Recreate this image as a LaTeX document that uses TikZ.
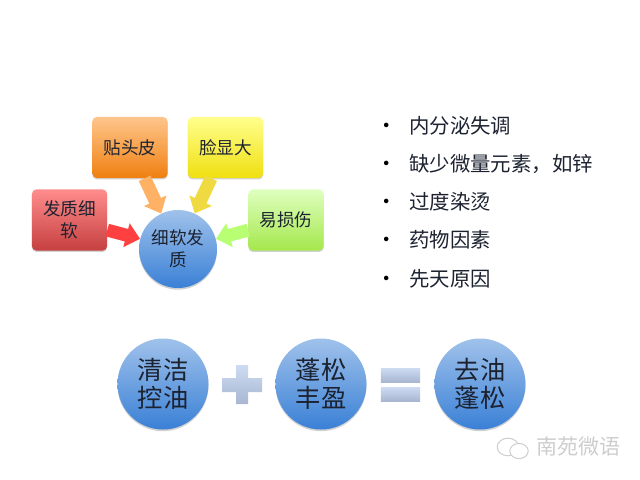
\documentclass[tikz,border=0pt]{standalone}
\usepackage{xcolor}
\usepackage{fontspec}
\usetikzlibrary{arrows.meta, positioning, shadows}
\newfontfamily\cjk{Noto Sans CJK SC}
\definecolor{nfbleuA}{RGB}{160,194,235}
\definecolor{nfbleuB}{RGB}{58,128,214}
\definecolor{nfsigneA}{RGB}{205,220,242}
\definecolor{nfsigneB}{RGB}{168,182,210}
\definecolor{nfencre}{RGB}{28,34,48}
\definecolor{nfmarque}{RGB}{205,205,205}
\tikzset{
  boxnote/.style={rectangle, rounded corners=3pt, minimum width=1.875cm, minimum height=1.525cm,
        inner sep=0pt, align=center, text=nfencre, font=\cjk\fontsize{12.5}{15.5}\selectfont,
        drop shadow={shadow xshift=0pt, shadow yshift=-1pt, fill=black, opacity=0.18}},
  roundnode/.style={circle, inner sep=0pt, align=center, text=nfencre,
        top color=nfbleuA, bottom color=nfbleuB,
        drop shadow={shadow xshift=0pt, shadow yshift=-1.2pt, fill=black, opacity=0.18}},
  causearrow/.style={line width=9.2pt, -{Triangle[length=10pt, width=17pt]}},
  listitem/.style={anchor=west, inner sep=0pt, text=nfencre, font=\cjk\fontsize{14.5}{16}\selectfont,
        label={[text=black, font=\normalfont\fontsize{12}{14}\selectfont, xshift=-8pt]left:\textbullet}},
  signbar/.style={rectangle, inner sep=0pt, minimum width=0.975cm, minimum height=0.35cm,
        top color=nfsigneA, bottom color=nfsigneB}
}

\begin{document}
\begin{tikzpicture}[x=0.025cm, y=-0.025cm]
  \useasboundingbox (0,0) rectangle (640,480);
  % causes
  \node (core) [roundnode, minimum size=1.95cm, font=\cjk\fontsize{12.5}{15.5}\selectfont] at (178,249) {细软发\\质};
  \node (thin) [boxnote, top color=red!45!white, bottom color=red!70!black!75] at (69.5,220) {发质细\\软};
  \node (scalp) [boxnote, top color=orange!45!white, bottom color=orange!75!brown] at (130,147.5) {贴头皮};
  \node (face) [boxnote, top color=yellow!45!white, bottom color=yellow!75!brown] at (225.5,147.5) {脸显大};
  \node (brittle) [boxnote, top color=green!50!yellow!25!white, bottom color=green!55!yellow!75!brown!75] at (286,220) {易损伤};
  \draw[causearrow, draw=red!75!white] (thin) -- (core);
  \draw[causearrow, draw=orange!60!white] (scalp) -- (core);
  \draw[causearrow, draw=yellow!70!brown!85] (face) -- (core);
  \draw[causearrow, draw=green!50!yellow!55!white] (brittle) -- (core);
  % list
  \node (reasonA) [listitem] at (409,126) {内分泌失调};
  \node (reasonB) [listitem] at (409,164) {缺少微量元素，如锌};
  \node (reasonC) [listitem] at (409,202) {过度染烫};
  \node (reasonD) [listitem] at (409,240) {药物因素};
  \node (reasonE) [listitem] at (409,279) {先天原因};
  % formula
  \node (clean) [roundnode, minimum size=2.275cm, font=\cjk\fontsize{18}{20}\selectfont] at (163,384) {清洁\\控油};
  \node (fluffy) [roundnode, minimum size=2.275cm, font=\cjk\fontsize{18}{20}\selectfont] at (321,384) {蓬松\\丰盈};
  \node (result) [roundnode, minimum size=2.275cm, font=\cjk\fontsize{18}{20}\selectfont] at (480,384) {去油\\蓬松};
  \shade[top color=nfsigneA, bottom color=nfsigneB]
    (236,365) -- (248,365) -- (248,378) -- (262,378) -- (262,392) -- (248,392)
    -- (248,404) -- (236,404) -- (236,392) -- (222,392) -- (222,378) -- (236,378) -- cycle;
  \node (eqtop) [signbar] at (400.5,375) {};
  \node (eqbottom) [signbar] at (400.5,394) {};
  % watermark
  \draw[nfmarque, line width=0.7pt] (508,447) ellipse [x radius=0.27cm, y radius=0.22cm];
  \draw[nfmarque, line width=0.7pt, fill=white] (519,451) ellipse [x radius=0.23cm, y radius=0.19cm];
  \node (mark) [anchor=west, inner sep=0pt, text=nfmarque, font=\cjk\fontsize{15}{17}\selectfont] at (536,447) {南苑微语};
\end{tikzpicture}
\end{document}
